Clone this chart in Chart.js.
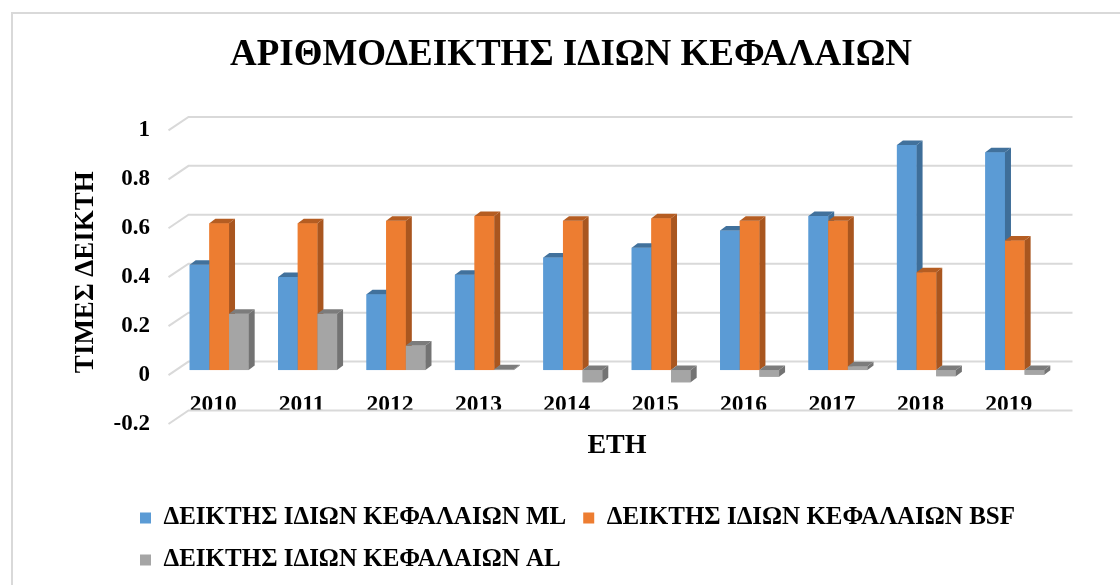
<!DOCTYPE html>
<html>
<head>
<meta charset="utf-8">
<script src="https://cdn.jsdelivr.net/npm/chart.js@4.4.1/dist/chart.umd.min.js"></script>
<style>
  html, body { margin: 0; padding: 0; background: #fff; }
  #wrap { position: relative; width: 1120px; height: 585px; }
</style>
</head>
<body>
<div id="wrap"><canvas id="myChart"></canvas></div>
<script>
// values
const years = ['2010', '2011', '2012', '2013', '2014', '2015', '2016', '2017', '2018', '2019'];
const mlValues = [0.43, 0.38, 0.31, 0.39, 0.46, 0.50, 0.57, 0.63, 0.92, 0.89];
const bsfValues = [0.60, 0.60, 0.61, 0.63, 0.61, 0.62, 0.61, 0.61, 0.40, 0.53];
const alValues = [0.23, 0.23, 0.10, 0.003, -0.05, -0.05, -0.027, 0.016, -0.025, -0.019];
const seriesNames = ['ΔΕΙΚΤΗΣ ΙΔΙΩΝ ΚΕΦΑΛΑΙΩΝ ML', 'ΔΕΙΚΤΗΣ ΙΔΙΩΝ ΚΕΦΑΛΑΙΩΝ BSF', 'ΔΕΙΚΤΗΣ ΙΔΙΩΝ ΚΕΦΑΛΑΙΩΝ AL'];

const FONT = '"Liberation Serif", "Times New Roman", serif';
const BAR_DX = 6, BAR_DY = 4.5;

// outer frame like the spreadsheet chart box
const framePlugin = {
    id: 'frame',
    beforeDraw(chart) {
        const ctx = chart.ctx;
        ctx.save();
        ctx.fillStyle = '#fff';
        ctx.fillRect(0, 0, chart.width, chart.height);
        ctx.strokeStyle = '#d9d9d9';
        ctx.lineWidth = 2;
        ctx.beginPath();
        ctx.moveTo(12, chart.height);
        ctx.lineTo(12, 13);
        ctx.lineTo(chart.width, 13);
        ctx.stroke();
        ctx.restore();
    }
};

// back-wall gridlines with the little slanted floor edge on the left
const wallGrid = {
    id: 'wallGrid',
    beforeDatasetsDraw(chart) {
        const ctx = chart.ctx;
        const yScale = chart.scales.y;
        const {left, right} = chart.chartArea;
        ctx.save();
        ctx.strokeStyle = '#d9d9d9';
        ctx.lineWidth = 2;
        yScale.ticks.forEach(t => {
            const p = yScale.getPixelForValue(t.value);
            ctx.beginPath();
            ctx.moveTo(left - 6.5, p + 5);
            ctx.lineTo(left + 13.5, p - 8.5);
            ctx.lineTo(right + 13.5, p - 8.5);
            ctx.stroke();
        });
        ctx.restore();
    }
};

// redraw every bar in series order with side and top faces (3d look)
const bar3d = {
    id: 'bar3d',
    afterDatasetsDraw(chart) {
        const ctx = chart.ctx;
        ctx.save();
        chart.data.datasets.forEach((ds, i) => {
            const meta = chart.getDatasetMeta(i);
            meta.data.forEach(bar => {
                const {x, y, base, width} = bar.getProps(['x', 'y', 'base', 'width'], true);
                const l = x - width / 2, r = x + width / 2;
                const t = Math.min(y, base), b = Math.max(y, base);
                ctx.fillStyle = ds.backgroundColor;
                ctx.fillRect(l, t, r - l, b - t);
                ctx.fillStyle = ds.sideColor;
                ctx.beginPath();
                ctx.moveTo(r, t);
                ctx.lineTo(r + BAR_DX, t - BAR_DY);
                ctx.lineTo(r + BAR_DX, b - BAR_DY);
                ctx.lineTo(r, b);
                ctx.closePath();
                ctx.fill();
                ctx.fillStyle = ds.topColor;
                ctx.beginPath();
                ctx.moveTo(l, t);
                ctx.lineTo(l + BAR_DX, t - BAR_DY);
                ctx.lineTo(r + BAR_DX, t - BAR_DY);
                ctx.lineTo(r, t);
                ctx.closePath();
                ctx.fill();
            });
        });
        ctx.restore();
    },
    afterLayout(chart) {
        // legend sits lower and further right than chart.js would put it
        const lg = chart.legend;
        lg.left += 40;
        lg.right += 40;
        lg.top = 488.5;
    }
};

const ctx = document.getElementById('myChart').getContext('2d');
window.myChart = new Chart(ctx, {
    type: 'bar',
    data: {
        labels: years,
        datasets: [{
            label: seriesNames[0],
            data: mlValues,
            backgroundColor: '#5B9BD5',
            sideColor: '#3E6E99',
            topColor: '#41719C'
        }, {
            label: seriesNames[1],
            data: bsfValues,
            backgroundColor: '#ED7D31',
            sideColor: '#A9561F',
            topColor: '#B55D22'
        }, {
            label: seriesNames[2],
            data: alValues,
            backgroundColor: '#A5A5A5',
            sideColor: '#737373',
            topColor: '#7C7C7C'
        }]
    },
    options: {
        responsive: true,
        maintainAspectRatio: false,
        animation: false,
        categoryPercentage: 0.667,
        barPercentage: 1,
        layout: {
            padding: { left: 83, right: 61, top: 0, bottom: 0 }
        },
        plugins: {
            title: {
                display: true,
                text: 'ΑΡΙΘΜΟΔΕΙΚΤΗΣ ΙΔΙΩΝ ΚΕΦΑΛΑΙΩΝ',
                color: '#000',
                font: { family: FONT, size: 37, weight: 'bold' },
                padding: { top: 33, bottom: 48 }
            },
            legend: {
                position: 'bottom',
                align: 'start',
                labels: {
                    color: '#000',
                    font: { family: FONT, size: 25, weight: 'bold' },
                    boxWidth: 11,
                    boxHeight: 11,
                    padding: 17
                }
            },
            tooltip: { enabled: false }
        },
        scales: {
            x: {
                grid: { display: false, drawTicks: false },
                border: { display: false },
                ticks: {
                    color: '#000',
                    font: { family: FONT, size: 23.5, weight: 'bold' },
                    mirror: true,
                    padding: 0,
                    labelOffset: -6,
                    maxRotation: 0
                },
                title: {
                    display: true,
                    text: 'ΕΤΗ',
                    color: '#000',
                    font: { family: FONT, size: 28, weight: 'bold' },
                    padding: { top: 0, bottom: 28 }
                },
                afterFit(scale) { scale.height = 72; }
            },
            y: {
                min: -0.2,
                max: 1,
                grid: { display: false, drawTicks: false },
                border: { display: false },
                ticks: {
                    stepSize: 0.2,
                    color: '#000',
                    font: { family: FONT, size: 23, weight: 'bold' },
                    padding: 25,
                    labelOffset: 5,
                    callback: v => Math.round(v * 10) / 10
                },
                title: {
                    display: true,
                    text: 'ΤΙΜΕΣ ΔΕΙΚΤΗ',
                    color: '#000',
                    font: { family: FONT, size: 27, weight: 'bold' },
                    padding: { top: -13, bottom: 0 }
                },
                afterFit(scale) { scale.width = 92; }
            }
        }
    },
    plugins: [framePlugin, wallGrid, bar3d]
});
</script>
</body>
</html>
